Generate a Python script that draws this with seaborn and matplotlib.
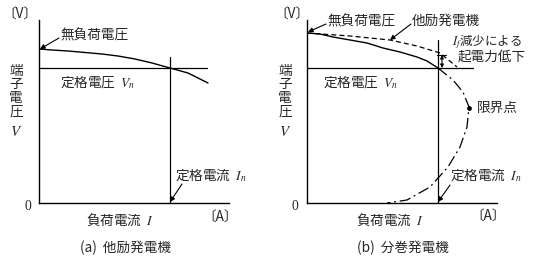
import matplotlib
matplotlib.use("Agg")
import matplotlib.pyplot as plt
from matplotlib.patches import FancyArrowPatch
import seaborn as sns
import numpy as np
import pandas as pd

sns.set_style("white")
plt.rcParams['font.family'] = ['Noto Sans CJK JP', 'DejaVu Sans']
plt.rcParams['mathtext.fontset'] = 'stix'

# ---- data (units: arbitrary, current I horizontal, voltage V vertical) ----
# (a) separately excited generator
sep_I = [0, 13, 29, 63, 79, 96, 113, 131, 149, 159, 169]
sep_V = [154, 153, 152, 149, 147, 144, 140, 135, 130, 125, 120]
rated_V_a = 135
rated_I_a = 131

# (b) shunt generator
shunt_I = [0, 13, 26, 60, 76, 93, 110, 120, 131]
shunt_V = [170, 169, 166, 160, 155, 151, 146, 142, 135]
shunt_sep_I = [0, 43, 83, 110, 133, 150]
shunt_sep_V = [170, 167, 163, 157, 150, 136]
shunt_low_I = [131, 146, 156, 162, 160, 153, 141, 123, 100, 80]
shunt_low_V = [135, 123, 111, 96, 76, 56, 36, 16, 3, 0]
critical_I = [162]
critical_V = [95]
rated_V_b = 135
rated_I_b = 131

fig = plt.figure(figsize=(5.4, 2.65), dpi=100)
ax1 = fig.add_axes([39/540, 62/265, 190/540, 183/265])
ax2 = fig.add_axes([307/540, 62/265, 190/540, 183/265])

fs = 9.8
for ax in (ax1, ax2):
    ax.set_xlim(0, 190)
    ax.set_ylim(0, 183)
    for s in ('top', 'right'):
        ax.spines[s].set_visible(False)
    for s in ('left', 'bottom'):
        ax.spines[s].set_color('black')
        ax.spines[s].set_linewidth(1.0)
    ax.set_xticks([])
    ax.set_yticks([])
    ax.patch.set_alpha(0)


def pointer(ax, start, end, style='-|>', ms=7):
    ax.add_patch(FancyArrowPatch(start, end, arrowstyle=style, mutation_scale=ms,
                                 color='black', lw=0.8, shrinkA=0, shrinkB=0,
                                 clip_on=False))


# ---------- (a) ----------
sns.lineplot(x=sep_I, y=sep_V, ax=ax1, color='black', lw=1.0)
ax1.plot([0, 168], [rated_V_a, rated_V_a], color='black', lw=0.9)
ax1.plot([rated_I_a, rated_I_a], [0, 146], color='black', lw=0.9)

ax1.text(-19, 188, '〔V〕', fontsize=fs, ha='center', va='center')
ax1.text(21, 168, '無負荷電圧', fontsize=fs, ha='left', va='center')
pointer(ax1, (20, 165), (1, 154))
ax1.text(-23, 112, '端\n子\n電\n圧', fontsize=fs, ha='center', va='center', linespacing=0.95)
ax1.text(-23, 71, '$V$', fontsize=fs + 1, ha='center', va='center')
ax1.text(-11, -3, '0', fontsize=fs, ha='center', va='center', family='Liberation Serif')
ax1.text(21, 121, '定格電圧  $V_n$', fontsize=fs, ha='left', va='center')
ax1.text(136, 28, '定格電流  $I_n$', fontsize=fs, ha='left', va='center')
pointer(ax1, (143, 19), (131, 1))
ax1.text(181, -15, '〔A〕', fontsize=fs, ha='center', va='center')
ax1.text(81, -17, '負荷電流  $I$', fontsize=fs, ha='center', va='center')
ax1.text(87, -45, '(a)  他励発電機', fontsize=fs, ha='center', va='center')

# ---------- (b) ----------
sns.lineplot(x=shunt_I, y=shunt_V, ax=ax2, color='black', lw=1.0)
sns.lineplot(x=shunt_sep_I, y=shunt_sep_V, ax=ax2, color='black', lw=0.9,
             linestyle=(0, (4, 2.5)))
sns.lineplot(x=shunt_low_I, y=shunt_low_V, ax=ax2, color='black', lw=0.9,
             sort=False, estimator=None, linestyle=(0, (9, 3, 1.5, 3)))
sns.scatterplot(x=critical_I, y=critical_V, ax=ax2, color='black', s=12,
                edgecolor='black', linewidth=0)
ax2.plot([0, 166], [rated_V_b, rated_V_b], color='black', lw=0.9)
ax2.plot([rated_I_b, rated_I_b], [0, 163], color='black', lw=0.9)

pointer(ax2, (135, 148), (135, 135), style='<|-|>', ms=5)
ax2.plot([130, 139], [148, 148], color='black', lw=0.8)

ax2.text(-15, 188, '〔V〕', fontsize=fs, ha='center', va='center')
ax2.text(20, 182, '無負荷電圧', fontsize=fs, ha='left', va='center')
pointer(ax2, (19, 179), (1, 171))
ax2.text(105, 182, '他励発電機', fontsize=fs, ha='left', va='center')
pointer(ax2, (104, 179), (83, 163))
ax2.text(145, 161, '$I_f$減少による', fontsize=9.0, ha='left', va='center')
ax2.text(151, 145, '起電力低下', fontsize=fs, ha='left', va='center')
ax2.text(170, 95, '限界点', fontsize=fs, ha='left', va='center')
ax2.text(-22, 112, '端\n子\n電\n圧', fontsize=fs, ha='center', va='center', linespacing=0.95)
ax2.text(-22, 71, '$V$', fontsize=fs + 1, ha='center', va='center')
ax2.text(-12, -3, '0', fontsize=fs, ha='center', va='center', family='Liberation Serif')
ax2.text(16, 121, '定格電圧  $V_n$', fontsize=fs, ha='left', va='center')
ax2.text(143, 28, '定格電流  $I_n$', fontsize=fs, ha='left', va='center')
pointer(ax2, (143, 18), (131, 1))
ax2.text(181, -14, '〔A〕', fontsize=fs, ha='center', va='center')
ax2.text(83, -17, '負荷電流  $I$', fontsize=fs, ha='center', va='center')
ax2.text(96, -45, '(b)  分巻発電機', fontsize=fs, ha='center', va='center')

fig.savefig('out.png', dpi=100)
